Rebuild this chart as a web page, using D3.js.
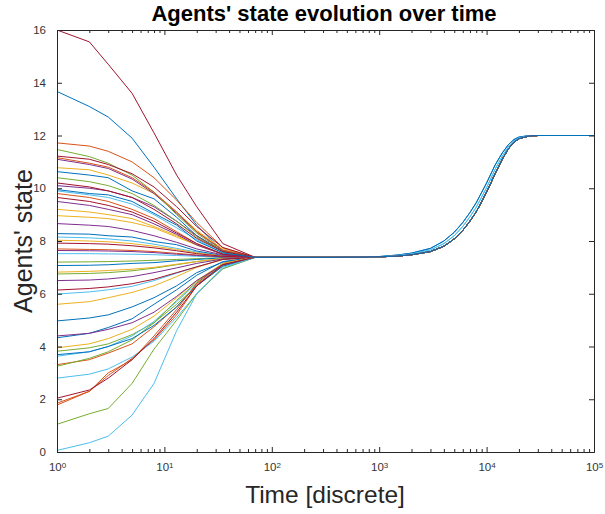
<!DOCTYPE html>
<html>
<head>
<meta charset="utf-8">
<script src="https://cdn.jsdelivr.net/npm/d3@7"></script>
<style>
  body { margin: 0; background: #fff; }
  svg { font-family: Helvetica, "Liberation Sans", Arial, sans-serif; }
  .axis path, .axis line { stroke: #262626; }
  .axis text { fill: #333; font-size: 11.5px; }
</style>
</head>
<body>
<div id="chart"></div>
<script>
// sample times of the early (consensus) phase
const earlyTimes = [1, 2, 3, 5, 8, 13, 20, 35, 70];

// each agent's state at earlyTimes (plot order = MATLAB colour order)
const agentPaths = [
  [13.67, 13.1, 12.7, 11.9, 10.8, 9.6, 8.6, 7.6, 7.38],
  [11.72, 11.6, 11.4, 11.0, 10.4, 9.55, 8.7, 7.75, 7.38],
  [10.78, 10.7, 10.5, 10.2, 9.8, 9.1, 8.4, 7.7, 7.38],
  [11.1, 10.9, 10.75, 10.35, 9.8, 9.05, 8.35, 7.65, 7.38],
  [11.47, 11.2, 10.95, 10.5, 9.85, 9.0, 8.3, 7.6, 7.38],
  [9.9, 9.75, 9.65, 9.4, 9.0, 8.5, 8.05, 7.55, 7.38],
  [16, 15.55, 14.7, 13.6, 12.1, 10.5, 9.3, 7.9, 7.38],
  [10.63, 10.5, 10.4, 9.9, 9.6, 8.9, 8.2, 7.6, 7.38],
  [11.16, 10.95, 10.8, 10.4, 9.85, 9.1, 8.35, 7.65, 7.38],
  [9.2, 9.1, 9.0, 8.85, 8.55, 8.2, 7.85, 7.5, 7.38],
  [10.1, 10.0, 9.9, 9.65, 9.3, 8.75, 8.2, 7.6, 7.38],
  [10.4, 10.25, 10.1, 9.8, 9.35, 8.75, 8.15, 7.6, 7.38],
  [8.15, 8.12, 8.08, 8.0, 7.88, 7.72, 7.58, 7.44, 7.38],
  [11.22, 11.1, 10.9, 10.55, 10.05, 9.3, 8.55, 7.75, 7.38],
  [8.28, 8.26, 8.2, 8.15, 7.98, 7.86, 7.62, 7.45, 7.38],
  [9.8, 9.65, 9.5, 9.2, 8.85, 8.35, 7.9, 7.5, 7.38],
  [8.96, 8.9, 8.85, 8.7, 8.5, 8.15, 7.85, 7.5, 7.38],
  [9.5, 9.35, 9.2, 9.0, 8.65, 8.25, 7.85, 7.5, 7.38],
  [7.2, 7.21, 7.22, 7.24, 7.27, 7.3, 7.33, 7.37, 7.38],
  [7.52, 7.52, 7.51, 7.5, 7.48, 7.45, 7.42, 7.39, 7.38],
  [10.2, 10.05, 9.9, 9.65, 9.2, 8.65, 8.1, 7.6, 7.38],
  [7.07, 7.08, 7.1, 7.15, 7.18, 7.25, 7.3, 7.36, 7.38],
  [7.7, 7.68, 7.67, 7.64, 7.6, 7.53, 7.47, 7.4, 7.38],
  [8.03, 8.0, 7.97, 7.9, 7.8, 7.68, 7.55, 7.43, 7.38],
  [8.66, 8.6, 8.55, 8.4, 8.2, 7.95, 7.7, 7.47, 7.38],
  [6.75, 6.77, 6.8, 6.87, 6.97, 7.1, 7.22, 7.34, 7.38],
  [5.99, 6.07, 6.15, 6.28, 6.5, 6.78, 7.02, 7.3, 7.38],
  [9.65, 9.5, 9.35, 9.1, 8.75, 8.3, 7.9, 7.5, 7.38],
  [4.97, 5.08, 5.2, 5.5, 5.85, 6.3, 6.8, 7.2, 7.38],
  [3.31, 3.5, 3.75, 4.1, 4.75, 5.5, 6.35, 7.1, 7.38],
  [6.82, 6.85, 6.88, 6.93, 7.0, 7.12, 7.22, 7.34, 7.38],
  [7.64, 7.63, 7.62, 7.6, 7.56, 7.5, 7.45, 7.4, 7.38],
  [3.82, 3.95, 4.1, 4.45, 4.9, 5.6, 6.3, 7.05, 7.38],
  [3.63, 3.8, 4.0, 4.4, 4.95, 5.7, 6.4, 7.1, 7.38],
  [7.92, 7.9, 7.88, 7.82, 7.74, 7.63, 7.52, 7.42, 7.38],
  [4.33, 4.5, 4.72, 5.05, 5.6, 6.15, 6.7, 7.22, 7.38],
  [1.85, 2.3, 2.9, 3.55, 4.25, 5.2, 6.3, 7.1, 7.38],
  [5.6, 5.7, 5.85, 6.05, 6.3, 6.65, 7.0, 7.3, 7.38],
  [6.5, 6.52, 6.56, 6.65, 6.8, 6.98, 7.15, 7.32, 7.38],
  [3.25, 3.55, 3.8, 4.25, 4.9, 5.75, 6.45, 7.15, 7.38],
  [2.8, 2.95, 3.15, 3.6, 4.2, 5.1, 6.0, 6.95, 7.38],
  [6.14, 6.2, 6.26, 6.38, 6.55, 6.8, 7.02, 7.3, 7.38],
  [3.69, 3.8, 4.0, 4.3, 4.8, 5.5, 6.3, 7.05, 7.38],
  [1.78, 2.3, 3.0, 3.5, 4.4, 5.4, 6.4, 7.15, 7.38],
  [3.95, 4.1, 4.3, 4.65, 5.15, 5.85, 6.5, 7.15, 7.38],
  [4.4, 4.5, 4.65, 4.9, 5.3, 5.9, 6.5, 7.1, 7.38],
  [1.05, 1.45, 1.65, 2.6, 3.9, 5.0, 6.0, 6.95, 7.38],
  [0.06, 0.35, 0.6, 1.4, 2.6, 4.6, 6.0, 7.0, 7.38],
  [2.04, 2.35, 2.8, 3.5, 4.3, 5.3, 6.3, 7.1, 7.38],
  [9.95, 9.8, 9.75, 9.5, 9.05, 8.6, 8.0, 7.55, 7.38]
];

// late phase: all agents climb together to 12
const tailTimes = [100, 300, 700, 1000, 1500, 2000, 3000, 4000, 5000, 6000, 7000,
  8000, 10000, 12000, 14000, 16000, 18000, 20000, 25000, 30000, 100000];
const tailLate  = [7.38, 7.38, 7.39, 7.40, 7.43, 7.48, 7.60, 7.80, 8.08, 8.40, 8.75,
  9.10, 9.85, 10.55, 11.10, 11.50, 11.75, 11.88, 11.98, 12.0, 12.0];
const tailMid   = [7.38, 7.38, 7.39, 7.40, 7.45, 7.51, 7.66, 7.90, 8.20, 8.55, 8.92,
  9.28, 10.02, 10.72, 11.22, 11.58, 11.80, 11.91, 11.99, 12.0, 12.0];
const tailEarly = [7.38, 7.38, 7.39, 7.41, 7.47, 7.54, 7.72, 8.00, 8.33, 8.70, 9.08,
  9.45, 10.20, 10.88, 11.34, 11.66, 11.85, 11.94, 12.0, 12.0, 12.0];
// which tail each agent follows (0 late, 1 early, 2 mid)
const tailOf = agentPaths.map((d, i) => [35, 42].includes(i) ? 1 : [40, 47].includes(i) ? 2 : 0);

const yTicks = [0, 2, 4, 6, 8, 10, 12, 14, 16];
const xTickExps = [0, 1, 2, 3, 4, 5];

const colors = ['#0072BD', '#D95319', '#EDB120', '#7E2F8E', '#77AC30', '#4DBEEE', '#A2142F'];
const tails = [tailLate, tailEarly, tailMid];

const width = 605, height = 514;
const margin = {left: 57, right: 11, top: 30, bottom: 62};

const svg = d3.select('#chart').append('svg')
  .attr('width', width)
  .attr('height', height);

//Scales
const x = d3.scaleLog()
  .domain([1, 1e5])
  .range([margin.left, width - margin.right]);

const y = d3.scaleLinear()
  .domain([0, 16])
  .range([height - margin.bottom, margin.top]);

svg.append('clipPath').attr('id', 'clip')
  .append('rect')
  .attr('x', margin.left).attr('y', margin.top)
  .attr('width', x.range()[1] - margin.left)
  .attr('height', y.range()[0] - margin.top);

//Lines
const line = d3.line()
  .x(d => x(d[0]))
  .y(d => y(d[1]));

const series = agentPaths.map((vals, i) => {
  const pts = earlyTimes.map((t, j) => [t, vals[j]]);
  const tail = tails[tailOf[i]];
  return pts.concat(tailTimes.map((t, j) => [t, tail[j]]));
});

svg.append('g')
  .attr('clip-path', 'url(#clip)')
  .selectAll('path')
  .data(series)
  .enter()
  .append('path')
  .attr('d', line)
  .attr('fill', 'none')
  .attr('stroke', (d, i) => colors[i % colors.length])
  .attr('stroke-width', 1);

//Axes
const majors = xTickExps.map(e => Math.pow(10, e));
const minors = x.ticks().filter(t => !majors.includes(t));

const bottom = svg.append('g')
  .attr('class', 'axis')
  .attr('transform', `translate(0, ${y.range()[0]})`)
  .call(d3.axisBottom(x).tickValues(majors).tickSizeInner(-5).tickSizeOuter(0).tickPadding(11));

bottom.selectAll('.tick text')
  .text(null)
  .each(function(d) {
    const t = d3.select(this);
    t.append('tspan').text('10');
    t.append('tspan').attr('dy', '-0.45em').attr('font-size', '8px').text(Math.round(Math.log10(d)));
  });

svg.append('g')
  .attr('class', 'axis')
  .attr('transform', `translate(0, ${y.range()[0]})`)
  .call(d3.axisBottom(x).tickValues(minors).tickSizeInner(-3).tickSizeOuter(0).tickFormat(''));

svg.append('g')
  .attr('class', 'axis')
  .attr('transform', `translate(0, ${margin.top})`)
  .call(d3.axisTop(x).tickValues(majors).tickSizeInner(-5).tickSizeOuter(0).tickFormat(''));

svg.append('g')
  .attr('class', 'axis')
  .attr('transform', `translate(0, ${margin.top})`)
  .call(d3.axisTop(x).tickValues(minors).tickSizeInner(-3).tickSizeOuter(0).tickFormat(''));

svg.append('g')
  .attr('class', 'axis')
  .attr('transform', `translate(${margin.left}, 0)`)
  .call(d3.axisLeft(y).tickValues(yTicks).tickSizeInner(-5).tickSizeOuter(0).tickPadding(11));

svg.append('g')
  .attr('class', 'axis')
  .attr('transform', `translate(${x.range()[1]}, 0)`)
  .call(d3.axisRight(y).tickValues(yTicks).tickSizeInner(-5).tickSizeOuter(0).tickFormat(''));

//Labels
svg.append('text')
  .attr('x', 324)
  .attr('y', 21)
  .attr('text-anchor', 'middle')
  .attr('font-weight', 'bold')
  .attr('font-size', '22px')
  .attr('fill', '#000')
  .text("Agents' state evolution over time");

svg.append('text')
  .attr('x', 325)
  .attr('y', 502.5)
  .attr('text-anchor', 'middle')
  .attr('font-size', '24.5px')
  .attr('fill', '#262626')
  .text('Time [discrete]');

svg.append('text')
  .attr('transform', 'translate(32, 241) rotate(-90)')
  .attr('text-anchor', 'middle')
  .attr('font-size', '25px')
  .attr('fill', '#262626')
  .text("Agents' state");
</script>
</body>
</html>
